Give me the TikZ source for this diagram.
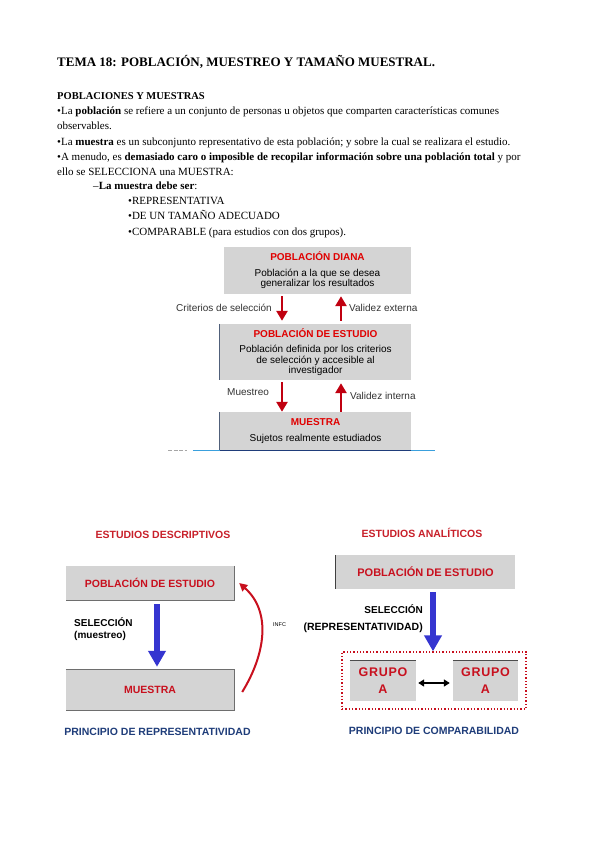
\documentclass[tikz,border=0pt]{standalone}
\usepackage{fontspec}
\setmainfont{Liberation Serif}
\newfontfamily\arialf{Liberation Sans}
\usetikzlibrary{arrows.meta,calc}
\definecolor{boxgray}{HTML}{D4D4D4}
\definecolor{dred}{HTML}{E00000}
\definecolor{arrred}{HTML}{C00010}
\definecolor{bred}{HTML}{C8101E}
\definecolor{tred}{HTML}{C8202A}
\definecolor{bblue}{HTML}{3535D0}
\definecolor{navyc}{HTML}{1F3D7A}
\definecolor{slatec}{HTML}{50607A}
\definecolor{lblue}{HTML}{3AA0DD}
\definecolor{edgec}{HTML}{6E6E6E}
\begin{document}
\begin{tikzpicture}[x=1pt,y=-1pt,
  txt/.style={anchor=base west,inner sep=0pt,font=\fontsize{11}{13}\selectfont},
  ttl/.style={anchor=base west,inner sep=0pt,font=\bfseries\fontsize{13}{15}\selectfont},
  dbox/.style={fill=boxgray,draw=none,inner sep=0pt,align=center,
    font=\arialf\fontsize{10}{10.5}\selectfont},
  lbl/.style={inner sep=0pt,font=\arialf\fontsize{10}{12}\selectfont,text=black!80},
  rarr/.style={draw=arrred,line width=2.8pt,-{Triangle[width=11pt,length=10pt]}},
  barr/.style={draw=bblue,line width=6pt,-{Triangle[width=17pt,length=16pt]}},
  gbox/.style={fill=boxgray,draw=none,inner sep=0pt,align=center,
    font=\arialf\bfseries\fontsize{10.5}{12}\selectfont,text=bred},
  sel/.style={inner sep=0pt,font=\arialf\bfseries\fontsize{10}{12}\selectfont,text=black},
  head/.style={inner sep=0pt,font=\arialf\bfseries\fontsize{10.5}{12}\selectfont,text=tred},
  princ/.style={inner sep=0pt,font=\arialf\bfseries\fontsize{10.5}{12}\selectfont,text=navyc}]
\useasboundingbox[fill=white] (0,0) rectangle (599,848);

% ---------- top text ----------
\node[ttl] (t0) at (57,67) {TEMA 18: POBLACIÓN, MUESTREO Y TAMAÑO MUESTRAL.};
\node[txt,font=\bfseries\fontsize{10.5}{12}\selectfont] (t1) at (57,100) {POBLACIONES Y MUESTRAS};
\node[txt] (t2) at (57,115) {•La \textbf{población} se refiere a un conjunto de personas u objetos que comparten características comunes};
\node[txt] (t3) at (57,130) {observables.};
\node[txt] (t4) at (57,145) {•La \textbf{muestra} es un subconjunto representativo de esta población; y sobre la cual se realizara el estudio.};
\node[txt] (t5) at (57,160) {•A menudo, es \textbf{demasiado caro o imposible de recopilar información sobre una población total} y por};
\node[txt] (t6) at (57,175) {ello se SELECCIONA una MUESTRA:};
\node[txt] (t7) at (93,189) {–\textbf{La muestra debe ser}:};
\node[txt] (t8) at (128,204) {•REPRESENTATIVA};
\node[txt] (t9) at (128,219) {•DE UN TAMAÑO ADECUADO};
\node[txt] (t10) at (128,235) {•COMPARABLE (para estudios con dos grupos).};

% ---------- diagram 1 ----------
\node[dbox,minimum width=187pt,minimum height=47pt] (b1) at (317.5,270.5)
  {{\color{dred}\bfseries POBLACIÓN DIANA}\\[5pt]Población a la que se desea\\generalizar los resultados};
\node[dbox,minimum width=191pt,minimum height=56pt] (b2) at (315.5,352)
  {{\color{dred}\bfseries POBLACIÓN DE ESTUDIO}\\[5pt]Población definida por los criterios\\de selección y accesible al\\investigador};
\node[dbox,minimum width=191pt,minimum height=38pt] (b3) at (315.5,431)
  {{\color{dred}\bfseries MUESTRA}\\[5pt]Sujetos realmente estudiados};
\draw[slatec,line width=1pt] (b2.north west) -- (b2.south west);
\draw[slatec,line width=1pt] (b3.north west) -- (b3.south west);
\draw[lblue,line width=1pt] ([xshift=-27pt]b3.south west) -- ([xshift=24pt]b3.south east);
\draw[navyc,line width=1pt] (b3.south west) -- (b3.south east);
\coordinate (dash1) at (168,450);
\coordinate (dash2) at (187,450);
\draw[black!35,line width=0.8pt,dash pattern=on 4pt off 1.5pt] (dash1) -- (dash2);

\coordinate (xa) at (282,0);
\coordinate (xb) at (341,0);
\draw[rarr,shorten <=2pt,shorten >=3pt] (b1.south -| xa) -- (b2.north -| xa);
\draw[rarr,shorten <=3pt,shorten >=2pt] (b2.north -| xb) -- (b1.south -| xb);
\draw[rarr,shorten <=2pt,shorten >=0pt] (b2.south -| xa) -- (b3.north -| xa);
\draw[rarr,shorten <=0pt,shorten >=3pt] (b3.north -| xb) -- (b2.south -| xb);
\node[lbl,anchor=east] (l1) at (272,308) {Criterios de selección};
\node[lbl,anchor=west] (l2) at (349,308) {Validez externa};
\node[lbl,anchor=west] (l3) at (227,392) {Muestreo};
\node[lbl,anchor=west] (l4) at (350,396) {Validez interna};

% ---------- diagram 2 (left) ----------
\node[head] (h1) at (163,535) {ESTUDIOS DESCRIPTIVOS};
\node[gbox,minimum width=168pt,minimum height=34pt] (pd) at (150,583) {POBLACIÓN DE ESTUDIO};
\node[gbox,minimum width=168pt,minimum height=40pt] (md) at (150,690) {MUESTRA};
\draw[edgec,line width=0.8pt] (pd.north east) -- (pd.south east) -- (pd.south west);
\draw[edgec,line width=0.8pt] (md.north west) -- (md.north east) -- (md.south east) -- (md.south west);
\coordinate (xc) at (157,0);
\draw[barr,shorten <=4pt,shorten >=3pt] (pd.south -| xc) -- (md.north -| xc);
\node[sel,anchor=west] (s1) at (74,622) {SELECCIÓN};
\node[sel,anchor=west] (s2) at (74,636) {(muestreo)};
\draw[draw=bred,line width=2pt,-{Triangle[width=8pt,length=8pt]}]
  ([xshift=8pt,yshift=-2pt]md.east) .. controls (265,655) and (272,612) .. ([xshift=5pt]pd.east);
\node[inner sep=0pt,anchor=west,font=\arialf\fontsize{5.5}{6}\selectfont] (inf) at (273,625) {INFC};

% ---------- diagram 3 (right) ----------
\node[head] (h2) at (422,533) {ESTUDIOS ANALÍTICOS};
\node[gbox,minimum width=179pt,minimum height=34pt,font=\arialf\bfseries\fontsize{11}{12}\selectfont] (pa) at (425.5,572) {POBLACIÓN DE ESTUDIO};
\draw[black!75,line width=1pt] (pa.north west) -- (pa.south west);
\node[draw=bred,dotted,line width=1.3pt,minimum width=184pt,minimum height=57pt,inner sep=0pt] (grp) at (434,680.5) {};
\node[gbox,minimum width=66pt,minimum height=40pt,font=\arialf\bfseries\fontsize{12.5}{17}\selectfont\addfontfeature{LetterSpace=6}] (g1) at (383,681) {GRUPO\\A};
\node[gbox,minimum width=65pt,minimum height=40pt,font=\arialf\bfseries\fontsize{12.5}{17}\selectfont\addfontfeature{LetterSpace=6}] (g2) at (485.5,681) {GRUPO\\A};
\draw[black!70,line width=1pt] (g1.north west) -- (g1.north east);
\draw[black!70,line width=1pt] (g2.north west) -- (g2.north east);
\draw[black,line width=2pt,{Triangle[width=7pt,length=6pt]}-{Triangle[width=7pt,length=6pt]},shorten <=2pt,shorten >=3pt]
  ([yshift=-2pt]g1.east) -- ([yshift=-2pt]g2.west);
\coordinate (xd) at (433,0);
\draw[barr,shorten <=3pt,shorten >=0pt] (pa.south -| xd) -- (grp.north -| xd);
\node[sel,anchor=east] (s3) at (423,609) {SELECCIÓN};
\node[sel,anchor=east,font=\arialf\bfseries\fontsize{10.5}{12}\selectfont] (s4) at (423,628) {(REPRESENTATIVIDAD)};

\node[princ] (p1) at (157.5,732) {PRINCIPIO DE REPRESENTATIVIDAD};
\node[princ] (p2) at (434,731) {PRINCIPIO DE COMPARABILIDAD};
\end{tikzpicture}
\end{document}
